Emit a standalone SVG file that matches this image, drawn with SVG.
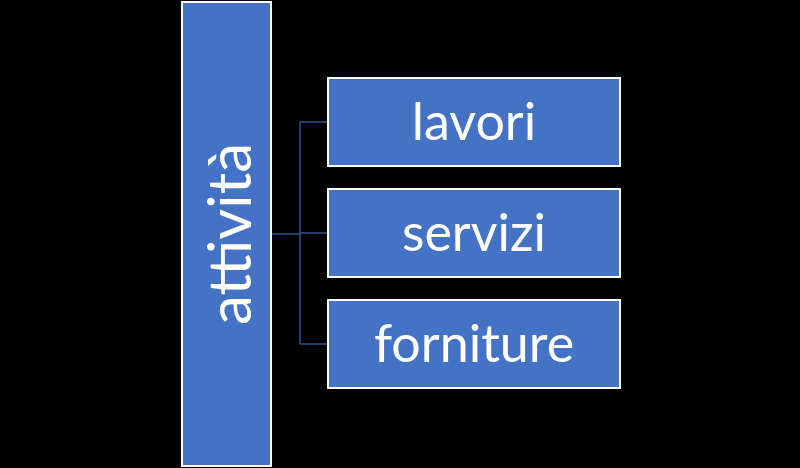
<svg xmlns="http://www.w3.org/2000/svg" width="800" height="468" viewBox="0 0 800 468">
<style>
.box{fill:#4472C4;stroke:#FFFFFF;stroke-width:2}
.t{fill:#FFFFFF;font-family:Lato,"Open Sans",sans-serif;text-anchor:middle;dominant-baseline:central}
.c{stroke:#2F528F;stroke-width:1.5;fill:none}
</style>
<rect width="800" height="468" fill="#000"/>
<g id="connectors">
<path class="c" d="M271 234H300M300 122V344M300 122H328M300 233H328M300 344H328"/>
</g>
<g id="attivita">
<rect class="box" x="182" y="2" width="89" height="464"/>
<text class="t" font-size="60" transform="translate(228,234) rotate(-90)">attività</text>
</g>
<g id="lavori">
<rect class="box" x="328" y="78" width="292" height="88"/>
<text class="t" font-size="52" x="474" y="120">lavori</text>
</g>
<g id="servizi">
<rect class="box" x="328" y="189" width="292" height="88"/>
<text class="t" font-size="52" x="474" y="231">servizi</text>
</g>
<g id="forniture">
<rect class="box" x="328" y="300" width="292" height="88"/>
<text class="t" font-size="52" x="474" y="342">forniture</text>
</g>
</svg>
